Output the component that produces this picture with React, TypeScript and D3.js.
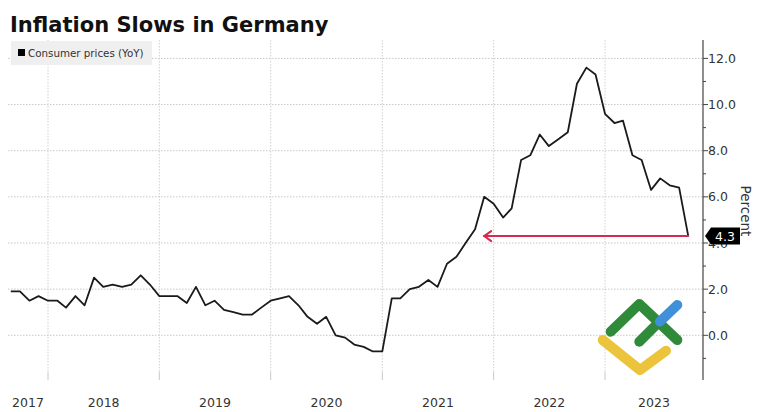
import React from "react";
import * as d3 from "d3";

// Data: Germany consumer prices (YoY %), monthly Aug 2017 .. Sep 2023
const startYear = 2017;
const startMonth = 7; // August (0-based)
const values: number[] = [
  1.9, 1.9, 1.5, 1.7, 1.5, 1.5, 1.2, 1.7, 1.3, 2.5, 2.1, 2.2, 2.1, 2.2,
  2.6, 2.2, 1.7, 1.7, 1.7, 1.4, 2.1, 1.3, 1.5, 1.1, 1.0, 0.9, 0.9, 1.2,
  1.5, 1.6, 1.7, 1.3, 0.8, 0.5, 0.8, 0.0, -0.1, -0.4, -0.5, -0.7, -0.7,
  1.6, 1.6, 2.0, 2.1, 2.4, 2.1, 3.1, 3.4, 4.0, 4.6, 6.0, 5.7, 5.1, 5.5,
  7.6, 7.8, 8.7, 8.2, 8.5, 8.8, 10.9, 11.6, 11.3, 9.6, 9.2, 9.3, 7.8,
  7.6, 6.3, 6.8, 6.5, 6.4, 4.3,
];
const yearLabels = ["2017", "2018", "2019", "2020", "2021", "2022", "2023"];
const yTicks = [0, 2, 4, 6, 8, 10, 12];
const yMinorTicks = [-1, 1, 3, 5, 7, 9, 11];
const title = "Inflation Slows in Germany";
const seriesName = "Consumer prices (YoY)";
const axisTitle = "Percent";
const arrowTargetDate = new Date(2021, 11, 1);

const W = 758;
const H = 412;
const plotLeft = 8;
const plotRight = 703;
const plotTop = 40;
const plotBottom = 378;

export default function App() {
  // points plotted at month end
  const data = values.map((v, i) => ({
    date: new Date(startYear, startMonth + i + 1, 1),
    v,
  }));

  const x = d3
    .scaleTime()
    .domain([new Date(2018, 0, 1), new Date(2023, 0, 1)])
    .range([48, 605]);
  const y = d3.scaleLinear().domain([0, 12]).range([335.3, 58.4]);

  const line = d3
    .line<{ date: Date; v: number }>()
    .x((d) => x(d.date))
    .y((d) => y(d.v))
    .curve(d3.curveLinear);

  const last = data[data.length - 1];
  const lx = x(last.date);
  const ly = y(last.v);
  const ax = x(arrowTargetDate);

  const yearStarts = yearLabels.map((yl) => new Date(+yl, 0, 1));
  const font = "'DejaVu Sans', Verdana, sans-serif";

  return (
    <svg
      width={W}
      height={H}
      style={{ position: "absolute", left: 0, top: 0, background: "#fff" }}
      fontFamily={font}
    >
      <rect x={0} y={0} width={W} height={H} fill="#fff" />
      {/* horizontal gridlines */}
      {yTicks.map((t) => (
        <line
          key={"hg" + t}
          x1={plotLeft}
          x2={plotRight}
          y1={y(t)}
          y2={y(t)}
          stroke="#c8c8c8"
          strokeWidth={1}
          strokeDasharray="1.5,1.5"
        />
      ))}
      {/* vertical gridlines at year starts */}
      {yearStarts.slice(1).map((d, i) => (
        <g key={"vg" + i}>
          <line
            x1={x(d)}
            x2={x(d)}
            y1={plotTop}
            y2={plotBottom - 6}
            stroke="#d0d0d0"
            strokeWidth={1}
            strokeDasharray="1.5,1.5"
          />
          <line
            x1={x(d)}
            x2={x(d)}
            y1={plotBottom - 6}
            y2={plotBottom + 2}
            stroke="#c8c8c8"
            strokeWidth={1}
          />
        </g>
      ))}

      {/* year labels centred on visible portion of each year */}
      {yearLabels.map((yl, i) => {
        const s = Math.max(plotLeft, x(new Date(+yl, 0, 1)));
        const e = Math.min(plotRight, x(new Date(+yl + 1, 0, 1)));
        return (
          <text
            key={"yl" + yl}
            x={(s + e) / 2}
            y={407}
            textAnchor="middle"
            fontSize={12.5}
            fill="#333"
          >
            {yl}
          </text>
        );
      })}

      {/* logo watermark */}
      <g strokeLinecap="round" strokeLinejoin="round" fill="none" strokeWidth={10}>
        <path d="M602.7,340 L640,370 L666,350.7" stroke="#ebc43c" />
        <path d="M610.7,331.7 L639.3,304 L677.3,340" stroke="#2f8a3a" />
        <path d="M639.3,341.7 L658.3,322.7" stroke="#2f8a3a" />
        <path d="M660,321.5 L677.3,305" stroke="#3f90d8" />
      </g>

      {/* series line */}
      <path
        d={line(data) || ""}
        fill="none"
        stroke="#1a1a1a"
        strokeWidth={1.8}
        strokeLinejoin="round"
      />

      {/* red arrow annotation */}
      <g stroke="#d42c4c" strokeWidth={2} fill="none" strokeLinecap="round">
        <line x1={lx} x2={ax} y1={ly} y2={ly} />
        <path d={`M${ax + 7},${ly - 5} L${ax},${ly} L${ax + 7},${ly + 5}`} />
      </g>

      {/* right axis */}
      <line x1={plotRight} x2={plotRight} y1={plotTop} y2={plotBottom + 2} stroke="#444" strokeWidth={1.2} />
      {yTicks.map((t) => (
        <g key={"yt" + t}>
          <line x1={plotRight} x2={plotRight + 5} y1={y(t)} y2={y(t)} stroke="#444" />
          <text x={plotRight + 5} y={y(t) + 4.5} fontSize={12.5} fill="#333">
            {d3.format(".1f")(t)}
          </text>
        </g>
      ))}
      {yMinorTicks.map((t) => (
        <line key={"ym" + t} x1={plotRight} x2={plotRight + 3} y1={y(t)} y2={y(t)} stroke="#444" />
      ))}
      <text
        transform={`translate(741, ${(plotTop + plotBottom) / 2 + 2}) rotate(90)`}
        textAnchor="middle"
        fontSize={13.5}
        fill="#333"
      >
        {axisTitle}
      </text>

      {/* last value label */}
      <path
        d={`M${plotRight + 2},${ly} L${plotRight + 8},${ly - 8.5} L${plotRight + 37},${ly - 8.5} L${plotRight + 37},${ly + 8.5} L${plotRight + 8},${ly + 8.5} Z`}
        fill="#000"
      />
      <text x={plotRight + 22} y={ly + 4.5} textAnchor="middle" fontSize={12.5} fill="#fff">
        {d3.format(".1f")(last.v)}
      </text>

      {/* legend */}
      <rect x={11} y={41} width={141} height={24} fill="#efefef" />
      <rect x={18} y={49} width={7} height={7} fill="#000" />
      <text x={28} y={57} fontSize={10.3} fill="#333">
        {seriesName}
      </text>

      {/* title */}
      <text x={10} y={32} fontSize={21} fontWeight="bold" fill="#111">
        {title}
      </text>
    </svg>
  );
}
